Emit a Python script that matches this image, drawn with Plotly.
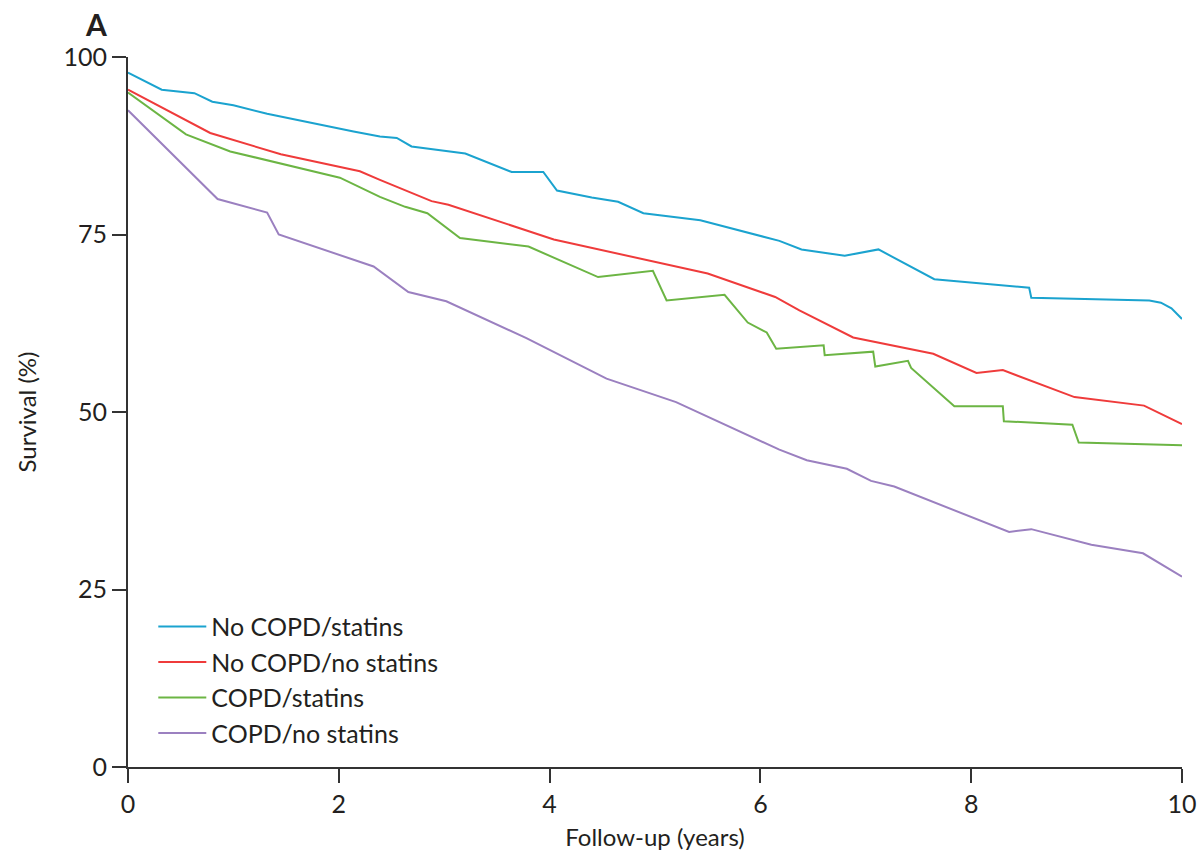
import plotly.graph_objects as go

# Follow-up (years) and survival (%)
nostat_nocopd_x = [0, 0.32, 0.63, 0.80, 1.0, 1.32, 2.14, 2.39, 2.55, 2.69, 3.2, 3.64, 3.94, 4.07, 4.40, 4.65, 4.89, 5.43, 6.18, 6.39, 6.80, 7.12, 7.65, 8.55, 8.57, 9.69, 9.80, 9.90, 10.0]
nostat_nocopd_y = [97.8, 95.4, 94.9, 93.7, 93.2, 92.0, 89.5, 88.8, 88.6, 87.4, 86.4, 83.8, 83.8, 81.2, 80.2, 79.6, 78.0, 77.0, 74.1, 72.9, 72.0, 72.9, 68.7, 67.5, 66.1, 65.7, 65.4, 64.6, 63.1]

nocopd_nostat_x = [0, 0.78, 1.45, 2.2, 2.39, 2.88, 3.04, 4.04, 5.5, 6.14, 6.37, 6.88, 7.64, 8.05, 8.30, 8.98, 9.64, 10.0]
nocopd_nostat_y = [95.4, 89.3, 86.3, 83.9, 82.7, 79.7, 79.2, 74.3, 69.5, 66.2, 64.3, 60.5, 58.2, 55.5, 55.9, 52.1, 50.9, 48.3]

copd_stat_x = [0, 0.55, 0.97, 2.01, 2.39, 2.63, 2.84, 3.15, 3.80, 4.46, 4.98, 5.11, 5.66, 5.88, 6.06, 6.15, 6.6, 6.61, 7.07, 7.09, 7.40, 7.43, 7.84, 8.30, 8.31, 8.96, 9.02, 10.0]
copd_stat_y = [95.0, 89.1, 86.7, 83.0, 80.3, 78.9, 78.0, 74.5, 73.3, 69.0, 69.9, 65.7, 66.5, 62.6, 61.2, 58.9, 59.4, 58.0, 58.5, 56.4, 57.2, 56.2, 50.8, 50.8, 48.7, 48.2, 45.7, 45.3]

copd_nostat_x = [0, 0.85, 1.32, 1.43, 2.33, 2.66, 3.02, 3.78, 4.54, 5.2, 6.18, 6.44, 6.82, 7.05, 7.27, 8.36, 8.57, 9.14, 9.63, 10.0]
copd_nostat_y = [92.5, 80.0, 78.1, 75.0, 70.5, 66.9, 65.6, 60.4, 54.7, 51.4, 44.7, 43.2, 42.0, 40.3, 39.5, 33.1, 33.5, 31.3, 30.1, 26.8]

series_names = ["No COPD/statins", "No COPD/no statins", "COPD/statins", "COPD/no statins"]
series_colors = ["#1ba3cf", "#ef3b3b", "#6cb544", "#9b80c0"]
x_ticks = [0, 2, 4, 6, 8, 10]
y_ticks = [0, 25, 50, 75, 100]

FONT = "Lato"
TXT = "#231f20"

fig = go.Figure()
data = [(nostat_nocopd_x, nostat_nocopd_y), (nocopd_nostat_x, nocopd_nostat_y),
        (copd_stat_x, copd_stat_y), (copd_nostat_x, copd_nostat_y)]
for (xs, ys), name, col in zip(data, series_names, series_colors):
    fig.add_trace(go.Scatter(x=xs, y=ys, mode="lines", name=name,
                             line=dict(color=col, width=2)))

axis_common = dict(showline=True, linecolor="#333333", linewidth=2, ticks="outside",
                   ticklen=14, tickwidth=2, tickcolor="#333333", showgrid=False, zeroline=False,
                   tickfont=dict(family=FONT, size=25, color=TXT))

fig.update_layout(
    width=1198, height=855,
    margin=dict(l=127.5, r=15.5, t=57.3, b=87.5, autoexpand=False),
    plot_bgcolor="white", paper_bgcolor="white",
    xaxis=dict(range=[0, 10], tickvals=x_ticks, ticktext=[str(v) for v in x_ticks],
               title=dict(text="Follow-up (years)", font=dict(family=FONT, size=24, color=TXT), standoff=12),
               **axis_common),
    yaxis=dict(range=[0, 100], tickvals=y_ticks, ticktext=[str(v) for v in y_ticks],
               title=dict(text="Survival (%)", font=dict(family=FONT, size=24, color=TXT), standoff=20),
               **axis_common),
    legend=dict(x=0.024, y=0.23, xanchor="left", yanchor="top", bgcolor="rgba(0,0,0,0)",
                font=dict(family=FONT, size=25, color=TXT), itemwidth=48),
    showlegend=True,
    annotations=[dict(text="<b>A</b>", xref="paper", yref="paper", x=-0.043, y=1.0, yshift=13,
                      xanchor="left", yanchor="bottom", showarrow=False,
                      font=dict(family=FONT, size=30, color=TXT))],
)

fig.write_html("out.html")
